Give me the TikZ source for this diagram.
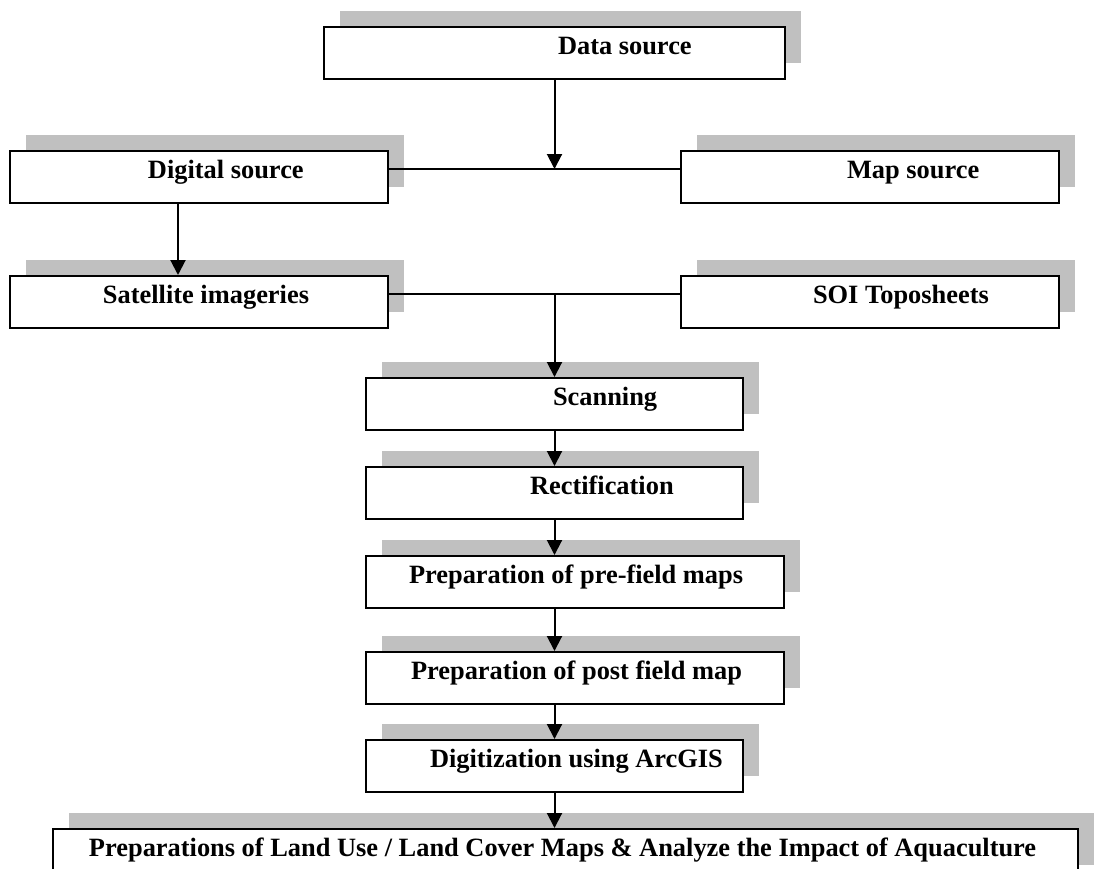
\documentclass[tikz,border=0pt]{standalone}
\usepackage{fontspec}
\setmainfont{Liberation Serif}
\usepackage{tikz}
\usetikzlibrary{arrows.meta, positioning, shadows}
\definecolor{shadowGray}{HTML}{C0C0C0}

\begin{document}
\begin{tikzpicture}[
    stage/.style={draw, line width=1pt, fill=white, inner sep=0pt,
                  text height=13.5pt, text depth=12.5pt, align=flush left,
                  font=\bfseries\fontsize{13.2}{15}\selectfont,
                  drop shadow={shadow xshift=8pt, shadow yshift=8pt,
                               fill=shadowGray, opacity=1, draw=none}},
    arrow/.style={-{Triangle[width=7.5pt,length=7.5pt]}, line width=1pt},
    link/.style={line width=1pt},
]
\useasboundingbox (-161.5pt,13pt) rectangle (386pt,-421pt);

% Sources
\node[stage, text width=230.5pt, anchor=north west] (data) at (0,0)
    {\hspace*{117pt}Data source};
\node[stage, text width=189pt, below=35pt of data.south west,
      anchor=north west, xshift=-157pt] (digital) {\hspace*{69pt}Digital source};
\node[stage, text width=189pt, right=145.5pt of digital]
    (map) {\hspace*{83pt}Map source};
\node[stage, text width=189pt, below=35.5pt of digital]
    (satellite) {\hspace*{46.5pt}Satellite imageries};
\node[stage, text width=189pt, right=145.5pt of satellite]
    (soi) {\hspace*{66pt}SOI Toposheets};

% Processing steps
\node[stage, text width=188.5pt, below=148.5pt of data]
    (scan) {\hspace*{93.5pt}Scanning};
\node[stage, text width=188.5pt, below=17.5pt of scan]
    (rect) {\hspace*{82pt}Rectification};
\node[stage, text width=209pt, below=17.5pt of rect.south west,
      anchor=north west] (pre) {\hspace*{21.5pt}Preparation of pre-field maps};
\node[stage, text width=209pt, below=21pt of pre]
    (post) {\hspace*{22.5pt}Preparation of post field map};
\node[stage, text width=188.5pt, below=17pt of post.south west,
      anchor=north west] (digi) {\hspace*{32pt}Digitization using ArcGIS};
\node[stage, text width=512.5pt, below=17.5pt of digi.south west,
      anchor=north west, xshift=-156.5pt]
    (final) {\hspace*{18pt}Preparations of Land Use / Land Cover Maps \& Analyze the Impact of Aquaculture};

% Connectors
\coordinate (j1) at ([yshift=4pt]digital.east);
\draw[link] (j1) -- (j1 -| map.west);
\draw[arrow] (data.south) -- (data.south |- j1);
\draw[arrow] ([xshift=-10.5pt]digital.south) -- ([xshift=-10.5pt]satellite.north);

\coordinate (j2) at ([yshift=4pt]satellite.east);
\draw[link] (j2) -- (j2 -| soi.west);
\draw[arrow] (j2 -| scan.north) -- (scan.north);

\draw[arrow] (scan) -- (rect);
\draw[arrow] (rect.south) -- (rect.south |- pre.north);
\draw[arrow] (pre.south -| rect.south) -- (post.north -| rect.south);
\draw[arrow] (post.south -| digi.north) -- (digi.north);
\draw[arrow] (digi.south) -- (digi.south |- final.north);
\end{tikzpicture}
\end{document}
